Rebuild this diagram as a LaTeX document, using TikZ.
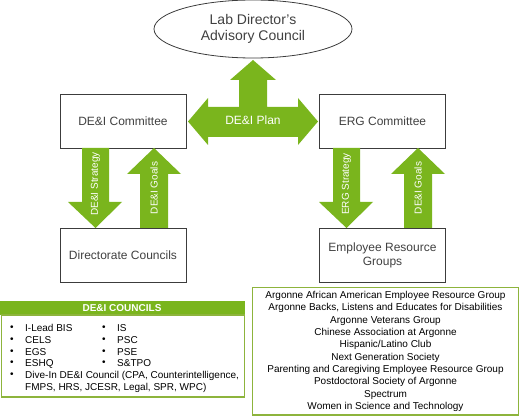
\documentclass[tikz,border=0pt]{standalone}
\usepackage{fontspec}
\setmainfont{Liberation Sans}
\usetikzlibrary{shapes.geometric}
\definecolor{argreen}{RGB}{122,181,29}
\definecolor{argborder}{RGB}{141,180,60}
\definecolor{boxtext}{RGB}{64,64,64}
\definecolor{boxline}{RGB}{60,60,60}
\begin{document}
\begin{tikzpicture}[x=1pt,y=-1pt,
  orgbox/.style={draw=boxline,line width=0.8pt,minimum width=126pt,minimum height=54pt,inner sep=0pt,
     align=center,text=boxtext,font=\fontsize{12}{14}\selectfont},
  blockarrow/.style={fill=argreen,draw=none},
  arrlabel/.style={text=white,font=\fontsize{10}{12}\selectfont,rotate=90,inner sep=0pt},
  listtext/.style={anchor=west,inner sep=0pt,font=\fontsize{10}{12}\selectfont}]
\useasboundingbox (0,0) rectangle (520,417);
% ellipse
\node[draw=boxline,line width=0.8pt,ellipse,minimum width=198pt,minimum height=58pt,inner sep=0pt,
  align=center,text=boxtext,font=\fontsize{14}{16}\selectfont] (ldac) at (253,29) {Lab Director’s\\Advisory Council};
% boxes
\node[orgbox] (dei) at (123,121) {DE\&I Committee};
\node[orgbox] (erg) at (382.5,121) {ERG Committee};
\node[orgbox] (dc) at (123,255) {Directorate Councils};
\node[orgbox] (ergs) at (382.5,255) {Employee Resource\\Groups};
% T arrow
\fill[blockarrow] (188,121.5) -- (208,98) -- (208,107) -- (239,107) -- (239,80) -- (230,80) -- (253,60)
  -- (276,80) -- (267,80) -- (267,107) -- (298,107) -- (298,98) -- (318,121.5) -- (298,145) -- (298,137)
  -- (208,137) -- (208,145) -- cycle;
\node[text=white,font=\fontsize{12}{14}\selectfont,inner sep=0pt] (plan) at (253,120.5) {DE\&I Plan};
% down arrows
\fill[blockarrow] (82,148) -- (109,148) -- (109,202) -- (122,202) -- (95.5,228) -- (68,202) -- (82,202) -- cycle;
\fill[blockarrow] (140,228) -- (168,228) -- (168,174) -- (181,174) -- (154,148) -- (127,174) -- (140,174) -- cycle;
\fill[blockarrow] (333,148) -- (360,148) -- (360,202) -- (373,202) -- (346.5,228) -- (319,202) -- (333,202) -- cycle;
\fill[blockarrow] (404,228) -- (432,228) -- (432,174) -- (445,174) -- (418,148) -- (391,174) -- (404,174) -- cycle;
\node[arrlabel] (l1) at (95.5,184) {DE\&I Strategy};
\node[arrlabel] (l2) at (154,188) {DE\&I Goals};
\node[arrlabel] (l3) at (346.5,184) {ERG Strategy};
\node[arrlabel] (l4) at (418,188) {DE\&I Goals};
% councils
\fill[argreen] (0,301) rectangle (245,315);
\node[text=white,font=\bfseries\fontsize{10}{12}\selectfont,inner sep=0pt] (hdr) at (122,308) {DE\&I COUNCILS};
\draw[argborder,line width=1.5pt] (1.5,315) rectangle (244.5,397);
\foreach \y/\a/\b in {328/I-Lead BIS/IS,340/CELS/PSC,352/EGS/PSE,363.5/ESHQ/S\&TPO}{
  \node[listtext] at (10,\y) {•};
  \node[listtext] at (25,\y) {\a};
  \node[listtext] at (102,\y) {•};
  \node[listtext] at (117,\y) {\b};
}
\node[listtext] (b5) at (10,375.5) {•};
\node[listtext] (t5) at (25,375.5) {Dive-In DE\&I Council (CPA, Counterintelligence,};
\node[listtext] (t6) at (25,387.5) {FMPS, HRS, JCESR, Legal, SPR, WPC)};
% ERG list
\draw[argborder,line width=1.5pt] (252.5,287.5) rectangle (518.5,415);
\node[align=center,inner sep=0pt,font=\fontsize{10}{12.33}\selectfont] (erglist) at (385.5,351.5) {%
Argonne African American Employee Resource Group\\
Argonne Backs, Listens and Educates for Disabilities\\
Argonne Veterans Group\\
Chinese Association at Argonne\\
Hispanic/Latino Club\\
Next Generation Society\\
Parenting and Caregiving Employee Resource Group\\
Postdoctoral Society of Argonne\\
Spectrum\\
Women in Science and Technology};
\end{tikzpicture}
\end{document}
